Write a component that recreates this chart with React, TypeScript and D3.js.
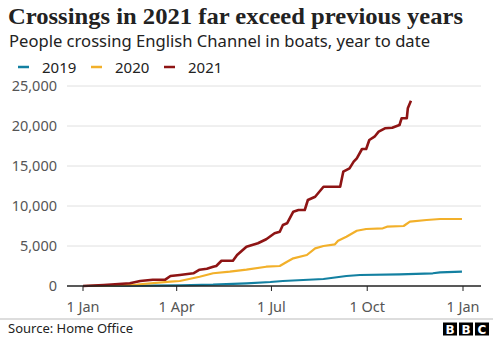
import React from "react";
import * as d3 from "d3";

const title = "Crossings in 2021 far exceed previous years";
const subtitle = "People crossing English Channel in boats, year to date";
const source = "Source: Home Office";

const seriesNames = ["2019", "2020", "2021"];
const seriesColors = ["#1380A1", "#F2B02A", "#8E1414"];

const days2019 = [0, 64, 93, 125, 157, 180, 192, 231, 253, 266, 304, 336, 343, 364];
const values2019 = [0, 40, 90, 160, 340, 500, 625, 875, 1250, 1375, 1460, 1590, 1710, 1790];

const days2020 = [0, 26, 52, 84, 93, 112, 125, 141, 157, 176, 189, 196, 202, 215, 223, 231, 242, 245, 253, 263, 272, 288, 292, 308, 314, 330, 343, 364];
const values2020 = [0, 60, 190, 540, 625, 1160, 1590, 1790, 2040, 2410, 2500, 3040, 3460, 3875, 4710, 5000, 5210, 5660, 6160, 6910, 7125, 7210, 7410, 7500, 8040, 8250, 8375, 8375];

const days2021 = [0, 20, 45, 55, 67, 79, 84, 93, 106, 112, 119, 125, 128, 133, 144, 148, 157, 168, 176, 184, 189, 192, 196, 202, 207, 213, 216, 223, 231, 247, 250, 256, 260, 263, 268, 272, 275, 280, 284, 290, 297, 304, 306, 311, 312, 315];
const values2021 = [0, 120, 340, 625, 790, 790, 1250, 1375, 1590, 2040, 2160, 2410, 2500, 3160, 3160, 3875, 4910, 5340, 5840, 6590, 6790, 7625, 7840, 9290, 9500, 9500, 10750, 11160, 12410, 12410, 14290, 14710, 15540, 15960, 17125, 17125, 18250, 18660, 19290, 19710, 19790, 20125, 20960, 20960, 22210, 23160];

const yTicks = [0, 5000, 10000, 15000, 20000, 25000];
const xTickDates = ["2021-01-01", "2021-04-01", "2021-07-01", "2021-10-01", "2022-01-01"];
const xTickLabels = ["1 Jan", "1 Apr", "1 Jul", "1 Oct", "1 Jan"];

const W = 500;
const H = 341;

export default function App() {
  const start = new Date(2021, 0, 1);
  const end = new Date(2022, 0, 1);
  const x = d3.scaleTime().domain([start, end]).range([83, 463]);
  const y = d3.scaleLinear().domain([0, 25000]).range([286, 86]);

  const series = [
    { name: seriesNames[0], color: seriesColors[0], days: days2019, values: values2019, w: 2.2 },
    { name: seriesNames[1], color: seriesColors[1], days: days2020, values: values2020, w: 2.2 },
    { name: seriesNames[2], color: seriesColors[2], days: days2021, values: values2021, w: 2.6 },
  ];

  const line = d3
    .line<[number, number]>()
    .x((d) => x(d3.timeDay.offset(start, d[0])))
    .y((d) => y(d[1]));

  const fmt = d3.format(",");
  const sans = "'Noto Sans', 'Open Sans', sans-serif";

  const legendX = [18, 91, 164];

  return (
    <svg
      width={W}
      height={H}
      style={{ position: "absolute", left: 0, top: 0, background: "#fff" }}
      fontFamily={sans}
    >
      <text x={8} y={24} fontFamily="'Liberation Serif', serif" fontWeight="bold" fontSize={24} fill="#222" textLength={455} lengthAdjust="spacingAndGlyphs">
        {title}
      </text>
      <text x={9} y={47} fontSize={16.5} fill="#222" textLength={421} lengthAdjust="spacingAndGlyphs">
        {subtitle}
      </text>
      {series.map((s, i) => (
        <g key={s.name}>
          <line x1={legendX[i]} x2={legendX[i] + 11} y1={67} y2={67} stroke={s.color} strokeWidth={2.5} />
          <text x={legendX[i] + 24} y={72.5} fontSize={15} fill="#222">
            {s.name}
          </text>
        </g>
      ))}
      {yTicks.map((t) => (
        <g key={t}>
          {t > 0 && <line x1={67} x2={481} y1={y(t)} y2={y(t)} stroke="#e0e0e0" strokeWidth={1} />}
          <text x={57} y={y(t) + 5} textAnchor="end" fontSize={14.5} fill="#555">
            {fmt(t)}
          </text>
        </g>
      ))}
      {series.map((s) => (
        <path
          key={s.name}
          d={line(s.days.map((d, i) => [d, s.values[i]] as [number, number])) || ""}
          fill="none"
          stroke={s.color}
          strokeWidth={s.w}
          strokeLinejoin="round"
        />
      ))}
      <line x1={67} x2={481} y1={286} y2={286} stroke="#222" strokeWidth={1.5} />
      {xTickDates.map((d, i) => {
        const px = x(new Date(d + "T00:00:00"));
        return (
          <g key={i}>
            <line x1={px} x2={px} y1={286} y2={291} stroke="#222" strokeWidth={1} />
            <text x={px} y={311.5} textAnchor="middle" fontSize={14.5} fill="#555">
              {xTickLabels[i]}
            </text>
          </g>
        );
      })}
      <line x1={0} x2={493} y1={319} y2={319} stroke="#bbb" strokeWidth={1} />
      <text x={8} y={333} fontSize={13} fill="#222">
        {source}
      </text>
      {["B", "B", "C"].map((c, i) => (
        <g key={i}>
          <rect x={443 + i * 16} y={322.5} width={14} height={13} fill="#000" />
          <text x={443 + i * 16 + 7} y={333.5} textAnchor="middle" fontSize={12} fontWeight="bold" fill="#fff" fontFamily="'DejaVu Sans', sans-serif">
            {c}
          </text>
        </g>
      ))}
    </svg>
  );
}
